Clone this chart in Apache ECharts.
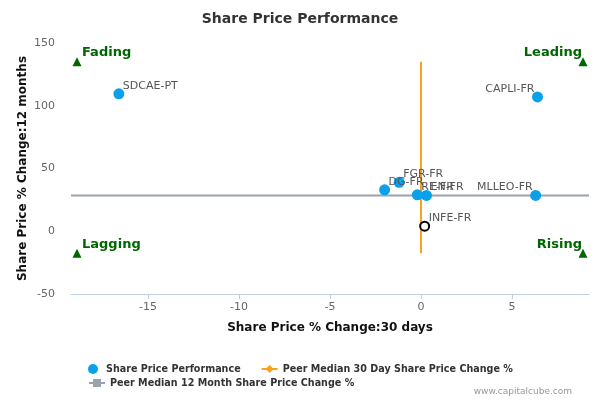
<!DOCTYPE html>
<html>
<head>
<meta charset="utf-8">
<script src="https://cdn.jsdelivr.net/npm/echarts@6/dist/echarts.min.js"></script>
<style>
  html, body { margin: 0; padding: 0; background: #fff; }
  #chart { width: 600px; height: 400px; }
</style>
</head>
<body>
<div id="chart"></div>
<script>
// companies, 30 day change (x) and 12 month change (y)
const companies = ['SDCAE-PT', 'CAPLI-FR', 'DG-FR', 'FGR-FR', 'RE-FR', 'EN-FR', 'MLLEO-FR', 'INFE-FR'];
const change30d = [-16.6, 6.4, -2.0, -1.2, -0.2, 0.3, 6.3, 0.2];
const change12m = [109.5, 107, 33, 39, 29, 28.5, 28.5, 4];
const focusCompany = 'INFE-FR';

// peer medians
const peerMedian30d = 0.0;
const peerMedian12m = 28.5;
const peerMedian30dRange = [-17.5, 135];

// quadrant markers
const quadrants = ['Fading', 'Leading', 'Lagging', 'Rising'];
const quadrantX = [-18.9, 8.9, -18.9, 8.9];
const quadrantY = [135, 135, -17.5, -17.5];

// axes
const xMin = -19.23, xMax = 9.23;
const xTicks = [-15, -10, -5, 0, 5];
const yTicks = [-50, 0, 50, 100, 150];

const font = 'DejaVu Sans';
const chart = echarts.init(document.getElementById('chart'));

const pointData = companies.map((name, i) => {
  const item = {
    name: name,
    value: [change30d[i], change12m[i]],
    label: change30d[i] > 5
      ? { align: 'right', offset: [-3, -8] }
      : { align: 'left', offset: [4, -8] }
  };
  if (name === focusCompany) {
    item.symbolSize = 9;
    item.itemStyle = { color: '#fff', borderColor: '#000', borderWidth: 2, opacity: 1 };
  }
  return item;
});

const quadrantData = quadrants.map((name, i) => ({
  name: name,
  value: [quadrantX[i], quadrantY[i]],
  label: quadrantX[i] < 0
    ? { align: 'left', offset: [5, -9] }
    : { align: 'right', offset: [-1, -9] }
}));

const legendText = { fontFamily: font, fontSize: 9.6, fontWeight: 'bold', color: '#333' };

const option = {
  animation: false,
  title: {
    text: 'Share Price Performance',
    left: 'center',
    top: 7,
    textStyle: { fontFamily: font, fontSize: 14, fontWeight: 'bold', color: '#333' }
  },
  legend: [
    {
      data: ['Share Price Performance', 'Peer Median 30 Day Share Price Change %'],
      left: 83, top: 359,
      itemWidth: 16, itemHeight: 10, itemGap: 20,
      textStyle: legendText
    },
    {
      data: ['Peer Median 12 Month Share Price Change %'],
      left: 83, top: 373,
      itemWidth: 16, itemHeight: 10,
      textStyle: legendText
    }
  ],
  grid: { left: 71, right: 11, top: 43, bottom: 106 },
  xAxis: {
    type: 'value',
    min: xMin, max: xMax,
    name: 'Share Price % Change:30 days',
    nameLocation: 'middle',
    nameGap: 28,
    nameTextStyle: { fontFamily: font, fontSize: 12, fontWeight: 'bold', color: '#111' },
    axisLine: { show: true, onZero: false, lineStyle: { color: '#C0D0E0' } },
    axisTick: { show: true, customValues: xTicks, length: 5, lineStyle: { color: '#C0D0E0' } },
    axisLabel: { customValues: xTicks, margin: 8, fontFamily: font, fontSize: 11, color: '#666' },
    splitLine: { show: false }
  },
  yAxis: {
    type: 'value',
    min: -50, max: 150, interval: 50,
    name: 'Share Price % Change:12 months',
    nameLocation: 'middle',
    nameGap: 42,
    nameMoveOverlap: false,
    nameTextStyle: { fontFamily: font, fontSize: 12, fontWeight: 'bold', color: '#111' },
    axisLine: { show: false },
    axisTick: { show: false },
    axisLabel: { customValues: yTicks, margin: 16, fontFamily: font, fontSize: 11, color: '#666' },
    splitLine: { show: false }
  },
  series: [
    {
      name: 'Peer Median 12 Month Share Price Change %',
      type: 'line',
      symbol: 'rect',
      showSymbol: false,
      itemStyle: { color: '#9aa2ae' },
      lineStyle: { color: '#9aa2ae', width: 2 },
      data: [[xMin, peerMedian12m], [xMax, peerMedian12m]],
      z: 1
    },
    {
      name: 'Peer Median 30 Day Share Price Change %',
      type: 'line',
      symbol: 'diamond',
      showSymbol: false,
      itemStyle: { color: '#f9a21b' },
      lineStyle: { color: '#f9a21b', width: 2 },
      data: [[peerMedian30d, peerMedian30dRange[0]], [peerMedian30d, peerMedian30dRange[1]]],
      z: 1
    },
    {
      name: 'Share Price Performance',
      type: 'scatter',
      symbol: 'circle',
      symbolSize: 11,
      itemStyle: { color: '#0aa1e8', opacity: 1 },
      label: {
        show: true,
        position: 'inside',
        verticalAlign: 'middle',
        formatter: p => p.name,
        fontFamily: font, fontSize: 11, color: '#555'
      },
      data: pointData,
      z: 3
    },
    {
      name: 'quadrants',
      type: 'scatter',
      symbol: 'triangle',
      symbolSize: 9,
      itemStyle: { color: '#006600', opacity: 1 },
      label: {
        show: true,
        position: 'inside',
        verticalAlign: 'middle',
        formatter: p => p.name,
        fontFamily: font, fontSize: 13, fontWeight: 'bold', color: '#006600'
      },
      data: quadrantData,
      z: 2
    }
  ],
  graphic: [
    {
      type: 'text',
      right: 28, top: 387,
      style: { text: 'www.capitalcube.com', fontFamily: font, fontSize: 9, fill: '#999' }
    }
  ]
};

chart.setOption(option);
</script>
</body>
</html>
